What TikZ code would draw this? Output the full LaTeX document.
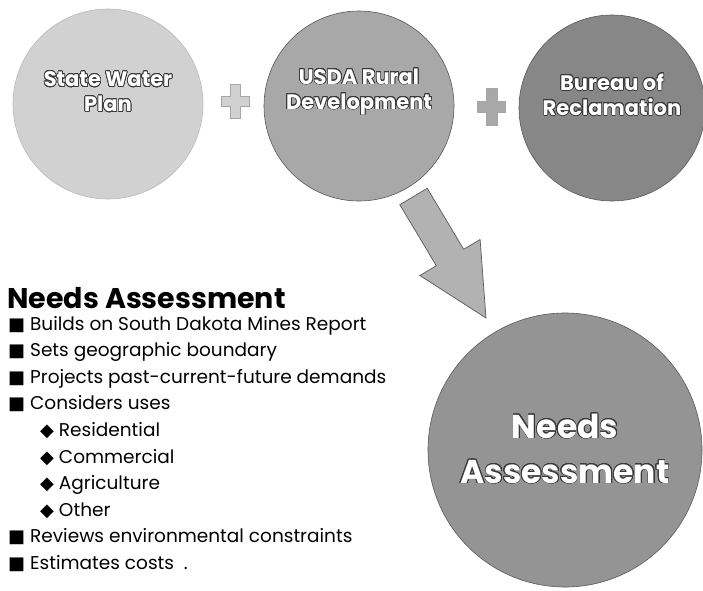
\documentclass[tikz,border=0pt]{standalone}
\usepackage{fontspec}
\setmainfont{Poppins}
\newfontfamily\symfont{DejaVu Sans}
\usepackage{contour}
\contourlength{0.7pt}
\contournumber{24}

\definecolor{cA}{gray}{0.82}
\definecolor{cB}{gray}{0.66}
\definecolor{cC}{gray}{0.53}
\definecolor{cD}{gray}{0.58}
\definecolor{edge}{gray}{0.35}

\tikzset{
  x=1pt, y=-1pt,
  source/.style={circle, minimum size=190pt, inner sep=0pt, draw=edge, line width=0.6pt},
  big/.style={circle, minimum size=274pt, inner sep=0pt, draw=edge, line width=0.6pt, fill=cD},
  ctext/.style={text=white, font=\bfseries\fontsize{21}{25}\selectfont, align=center},
  btext/.style={text=white, font=\bfseries\fontsize{33}{45}\selectfont, align=center},
  item/.style={anchor=base west, inner sep=0pt, font=\fontsize{18.5}{22}\selectfont},
  plus/.style={draw=gray!70, line width=0.4pt},
  blockarrow/.style={fill=gray!60, draw=edge, line width=0.7pt, line join=miter},
}
\newcommand{\sq}{{\symfont\fontsize{18}{18}\selectfont■}}
\newcommand{\dm}{{\symfont\fontsize{18}{18}\selectfont◆}}
\newcommand{\ctr}[1]{\contour{gray!45!black}{#1}}

\begin{document}
\begin{tikzpicture}
  \useasboundingbox (0,0) rectangle (703,590);
  \fill[white] (0,0) rectangle (703,590);

  % three sources
  \node[source, fill=cA, draw=gray!55] (swp) at (108,104) {};
  \node[source, fill=cB] (usda) at (359,106) {};
  \node[source, fill=cC, minimum size=186pt] (bor) at (612,108) {};

  \node[ctext] (swpt) at (108,92) {\ctr{State Water}\\\ctr{Plan}};
  \node[ctext] (usdat) at (359,92) {\ctr{USDA Rural}\\\ctr{Development}};
  \node[ctext] (bort) at (612,95) {\ctr{Bureau of}\\\ctr{Reclamation}};

  % plus signs between the sources
  \fill[cA, plus] (230,84) -- (240,84) -- (240,96) -- (249,96) -- (249,106)
    -- (240,106) -- (240,118) -- (230,118) -- (230,106) -- (221,106)
    -- (221,96) -- (230,96) -- cycle;
  \fill[cB, plus] (486,88) -- (497,88) -- (497,101) -- (505,101) -- (505,112)
    -- (497,112) -- (497,125) -- (486,125) -- (486,112) -- (477,112)
    -- (477,101) -- (486,101) -- cycle;

  % block arrow pointing to the result
  \filldraw[blockarrow] (427.2,188.3) -- (463.7,249.3) -- (480.1,239.5)
    -- (486,318) -- (419.9,275.5) -- (436.3,265.7) -- (399.8,204.7) -- cycle;

  % result
  \node[big] (na) at (565,450) {};
  \node[btext] (nat) at (565,449) {\ctr{Needs}\\\ctr{Assessment}};

  % description list
  \node[anchor=base west, inner sep=0pt, text depth=0pt, font=\bfseries\fontsize{28.5}{32}\selectfont] (title) at (7,308) {Needs Assessment};
  \node[item] (l1) at (8,330.0) {\sq\ Builds on South Dakota Mines Report};
  \node[item] (l2) at (8,356.6) {\sq\ Sets geographic boundary};
  \node[item] (l3) at (8,383.2) {\sq\ Projects past-current-future demands};
  \node[item] (l4) at (8,409.8) {\sq\ Considers uses};
  \node[item] (l5) at (40,436.4) {\dm\ Residential};
  \node[item] (l6) at (40,463.0) {\dm\ Commercial};
  \node[item] (l7) at (40,489.6) {\dm\ Agriculture};
  \node[item] (l8) at (40,516.2) {\dm\ Other};
  \node[item] (l9) at (8,542.8) {\sq\ Reviews environmental constraints};
  \node[item] (l10) at (8,569.4) {\sq\ Estimates costs\ \ .};
\end{tikzpicture}
\end{document}
